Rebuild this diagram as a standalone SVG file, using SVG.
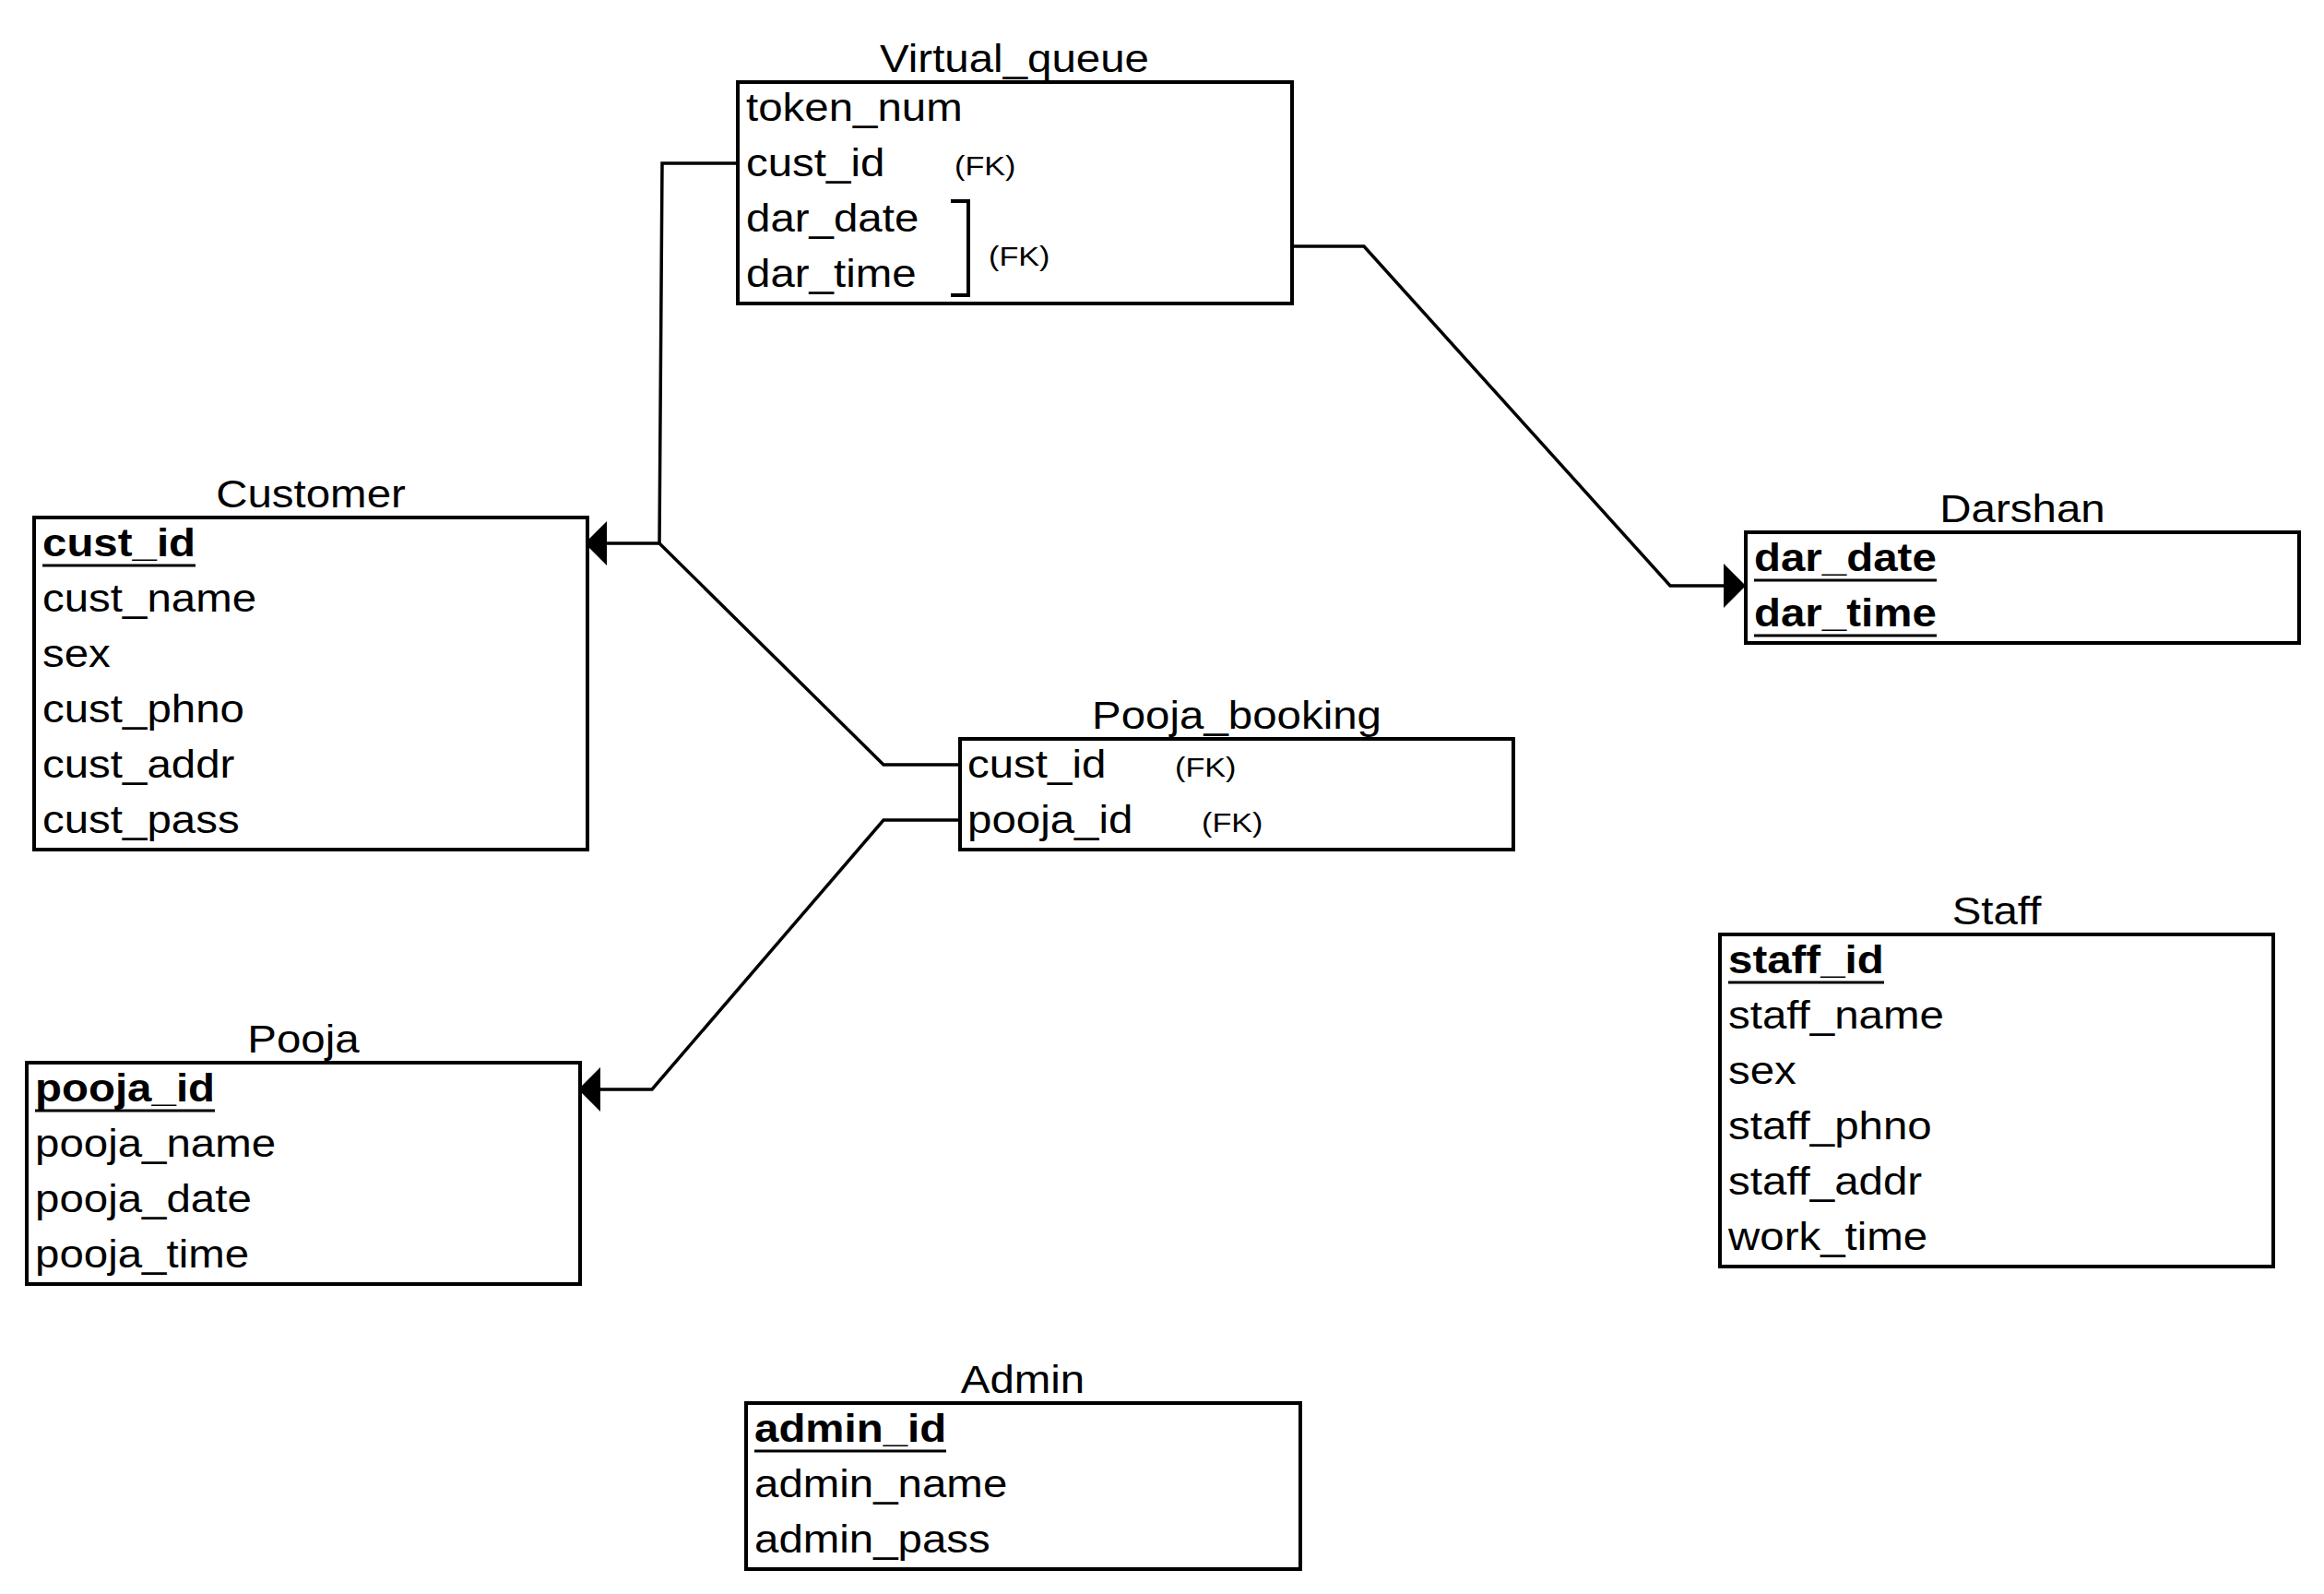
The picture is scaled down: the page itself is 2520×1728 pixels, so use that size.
<svg xmlns="http://www.w3.org/2000/svg" width="2520" height="1728" viewBox="0 0 2520 1728">
<defs>
<style>
.box{fill:#fff;stroke:#000;stroke-width:4}
.t{font-family:"Liberation Sans",Arial,Helvetica,sans-serif;font-size:42px;fill:#000}
.b{font-weight:bold}
.fk{font-size:30px}
.ttl{text-anchor:middle}
.ul{stroke:#000;stroke-width:3}
.conn{fill:none;stroke:#000;stroke-width:3.5}
.brk{fill:none;stroke:#000;stroke-width:4}
</style>
<marker id="arr" viewBox="0 0 24 48" refX="24" refY="24" markerWidth="24" markerHeight="48" markerUnits="userSpaceOnUse" orient="auto">
<path d="M0,0 L24,24 L0,48 Z" fill="#000"/>
</marker>
</defs>
<rect width="2520" height="1728" fill="#fff"/>

<g id="connectors">
<path class="conn" d="M800,177 L718,177 L715,589 L634,589" marker-end="url(#arr)"/>
<path class="conn" d="M1041,829 L958,829 L715,589"/>
<path class="conn" d="M1041,889 L958,889 L707,1181 L627,1181" marker-end="url(#arr)"/>
<path class="conn" d="M1401,267 L1479,267 L1811,635 L1893,635" marker-end="url(#arr)"/>
</g>

<g id="virtual_queue">
<rect class="box" x="800" y="89" width="601" height="240"/>
<text class="t ttl" transform="translate(1100 78) scale(1.13 1)">Virtual_queue</text>
<text class="t" transform="translate(809 131) scale(1.13 1)">token_num</text>
<text class="t" transform="translate(809 191) scale(1.13 1)">cust_id</text>
<text class="t" transform="translate(809 251) scale(1.13 1)">dar_date</text>
<text class="t" transform="translate(809 311) scale(1.13 1)">dar_time</text>
<text class="t fk" transform="translate(1035 190) scale(1.14 1)">(FK)</text>
<path class="brk" d="M1031,218 H1050 V320 H1031"/>
<text class="t fk" transform="translate(1072 288) scale(1.14 1)">(FK)</text>
</g>

<g id="customer">
<rect class="box" x="37" y="561" width="600" height="360"/>
<text class="t ttl" transform="translate(337 550) scale(1.13 1)">Customer</text>
<text class="t b" transform="translate(46 603) scale(1.13 1)">cust_id</text>
<line class="ul" x1="46" y1="613" x2="212" y2="613"/>
<text class="t" transform="translate(46 663) scale(1.13 1)">cust_name</text>
<text class="t" transform="translate(46 723) scale(1.13 1)">sex</text>
<text class="t" transform="translate(46 783) scale(1.13 1)">cust_phno</text>
<text class="t" transform="translate(46 843) scale(1.13 1)">cust_addr</text>
<text class="t" transform="translate(46 903) scale(1.13 1)">cust_pass</text>
</g>

<g id="darshan">
<rect class="box" x="1893" y="577" width="600" height="120"/>
<text class="t ttl" transform="translate(2193 566) scale(1.13 1)">Darshan</text>
<text class="t b" transform="translate(1902 619) scale(1.13 1)">dar_date</text>
<line class="ul" x1="1902" y1="629" x2="2100" y2="629"/>
<text class="t b" transform="translate(1902 679) scale(1.13 1)">dar_time</text>
<line class="ul" x1="1902" y1="689" x2="2100" y2="689"/>
</g>

<g id="pooja_booking">
<rect class="box" x="1041" y="801" width="600" height="120"/>
<text class="t ttl" transform="translate(1341 790) scale(1.13 1)">Pooja_booking</text>
<text class="t" transform="translate(1049 843) scale(1.13 1)">cust_id</text>
<text class="t fk" transform="translate(1274 842) scale(1.14 1)">(FK)</text>
<text class="t" transform="translate(1049 903) scale(1.13 1)">pooja_id</text>
<text class="t fk" transform="translate(1303 902) scale(1.14 1)">(FK)</text>
</g>

<g id="pooja">
<rect class="box" x="29" y="1152" width="600" height="240"/>
<text class="t ttl" transform="translate(329 1141) scale(1.13 1)">Pooja</text>
<text class="t b" transform="translate(38 1194) scale(1.13 1)">pooja_id</text>
<line class="ul" x1="38" y1="1204" x2="233" y2="1204"/>
<text class="t" transform="translate(38 1254) scale(1.13 1)">pooja_name</text>
<text class="t" transform="translate(38 1314) scale(1.13 1)">pooja_date</text>
<text class="t" transform="translate(38 1374) scale(1.13 1)">pooja_time</text>
</g>

<g id="staff">
<rect class="box" x="1865" y="1013" width="600" height="360"/>
<text class="t ttl" transform="translate(2165 1002) scale(1.13 1)">Staff</text>
<text class="t b" transform="translate(1874 1055) scale(1.13 1)">staff_id</text>
<line class="ul" x1="1874" y1="1065" x2="2043" y2="1065"/>
<text class="t" transform="translate(1874 1115) scale(1.13 1)">staff_name</text>
<text class="t" transform="translate(1874 1175) scale(1.13 1)">sex</text>
<text class="t" transform="translate(1874 1235) scale(1.13 1)">staff_phno</text>
<text class="t" transform="translate(1874 1295) scale(1.13 1)">staff_addr</text>
<text class="t" transform="translate(1874 1355) scale(1.13 1)">work_time</text>
</g>

<g id="admin">
<rect class="box" x="809" y="1521" width="601" height="180"/>
<text class="t ttl" transform="translate(1109 1510) scale(1.13 1)">Admin</text>
<text class="t b" transform="translate(818 1563) scale(1.13 1)">admin_id</text>
<line class="ul" x1="818" y1="1573" x2="1026" y2="1573"/>
<text class="t" transform="translate(818 1623) scale(1.13 1)">admin_name</text>
<text class="t" transform="translate(818 1683) scale(1.13 1)">admin_pass</text>
</g>
</svg>
